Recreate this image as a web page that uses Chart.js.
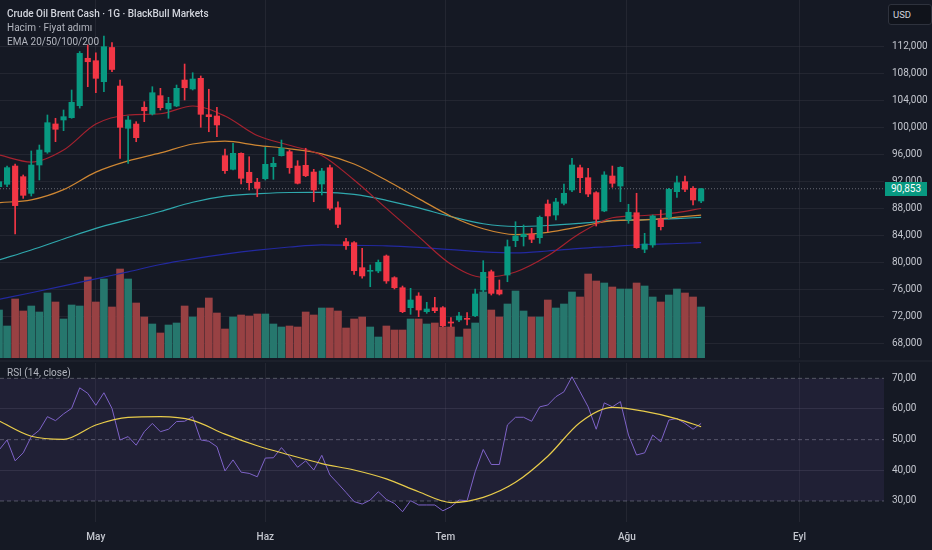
<!DOCTYPE html>
<html><head><meta charset="utf-8">
<script src="https://cdn.jsdelivr.net/npm/chart.js@4.4.1/dist/chart.umd.min.js"></script>
<style>
html,body{margin:0;padding:0;background:#151924;width:932px;height:550px;overflow:hidden;}
#wrap{position:relative;width:932px;height:550px;background:#151924;}
canvas{position:absolute;left:0;}
#main{top:0;}
#rsi{top:362px;}
.t{position:absolute;white-space:nowrap;font-family:Roboto,"Noto Sans",sans-serif;font-size:10px;line-height:14px;color:#b2b5be;}
#t1{left:7px;top:7px;color:#d1d4dc;font-weight:500;}
#t2{left:7px;top:21px;}
#t3{left:7px;top:35px;}
#t4{left:7px;top:366px;}
#usd{position:absolute;left:888px;top:4px;width:38px;height:19px;border:1px solid #2e323d;border-radius:3px;background:#10131b;color:#d1d4dc;font-family:Roboto,sans-serif;font-size:9.5px;line-height:19px;padding-left:4px;box-sizing:content-box;}
#plabel{position:absolute;left:885px;width:42px;height:14px;background:#089981;color:#fff;font-family:Roboto,sans-serif;font-size:10px;line-height:14px;text-align:center;}
#sep{position:absolute;left:0;top:360px;width:932px;height:2px;background:#1c202b;}
</style></head>
<body><div id="wrap">
<canvas id="main" width="932" height="360"></canvas>
<div id="sep"></div>
<canvas id="rsi" width="932" height="188"></canvas>
<div class="t" id="t1">Crude Oil Brent Cash · 1G · BlackBull Markets</div>
<div class="t" id="t2">Hacim · Fiyat adımı</div>
<div class="t" id="t3">EMA 20/50/100/200</div>
<div class="t" id="t4">RSI (14, close)</div>
<div id="usd">USD</div>
<div id="plabel">90,853</div>
</div>
<script>
// ---------- DATA ----------
const monthTicks  = [12.0, 33.0, 55.3, 77.8, 99.2];
const monthLabels = ['May', 'Haz', 'Tem', 'Ağu', 'Eyl'];
const priceTicks  = [68, 72, 76, 80, 84, 88, 92, 96, 100, 104, 108, 112];
const rsiTicks    = [30, 40, 50, 60, 70];
const rsiLevels   = [70, 50, 30];

const opens = [91.16,91.51,94.22,92.64,90.17,94.37,96.30,100.45,101.04,101.38,
103.16,110.18,109.82,106.71,111.78,106.07,99.81,100.44,102.92,101.93,
104.64,102.67,103.11,106.96,105.63,107.21,101.82,101.63,95.75,93.73,
96.10,93.29,91.81,92.34,94.12,95.75,96.34,94.22,94.32,93.33,
91.56,93.97,88.04,83.01,82.86,79.16,78.62,78.67,80.89,77.68,
76.19,73.23,74.96,72.64,73.23,73.23,71.11,71.41,71.60,72.04,
75.85,78.56,75.85,78.07,83.16,83.75,84.15,83.60,88.59,86.96,
88.70,90.67,93.97,92.49,90.27,87.56,92.74,91.26,86.22,87.30,
81.88,82.52,86.37,86.62,90.42,91.90,90.92,89.04];
const highs = [92.30,94.22,94.52,92.89,96.45,97.33,101.78,101.29,102.52,105.48,
111.18,112.15,111.00,113.48,112.49,106.96,101.63,100.79,103.75,105.97,
105.73,104.40,106.22,109.33,108.04,107.56,105.59,102.92,96.74,97.58,
96.19,95.60,92.40,96.99,95.51,98.07,96.59,95.01,96.85,93.73,
93.88,94.37,88.93,83.51,83.01,82.03,79.56,80.30,81.04,77.82,
76.44,76.10,75.45,74.03,74.77,73.38,71.75,72.55,72.49,76.00,
80.20,78.81,77.33,83.26,85.97,85.48,84.99,86.82,89.19,89.44,
91.56,95.36,94.37,93.88,90.42,93.38,94.22,94.12,88.55,90.18,
84.25,86.96,87.70,90.92,92.74,92.74,91.16,90.92];
const lows = [90.80,91.16,84.15,89.43,89.78,92.15,96.10,97.83,99.46,101.29,
102.80,105.97,105.08,105.23,108.19,95.36,94.62,97.82,100.79,101.78,
102.52,101.29,103.01,104.00,105.48,99.96,99.30,98.56,93.14,93.63,
91.56,90.67,89.67,92.15,92.25,95.70,93.14,91.56,92.64,88.93,
89.93,87.70,85.08,81.88,78.17,77.60,76.34,78.41,76.84,76.00,
72.49,72.25,71.90,72.40,72.49,70.41,70.41,71.16,70.67,71.90,
75.60,75.11,75.11,77.08,82.27,82.37,82.86,82.77,84.49,86.22,
88.44,90.42,90.27,89.67,85.33,87.45,91.07,88.93,85.73,82.03,
81.38,82.18,84.74,86.33,89.58,90.42,88.44,88.80];
const closes = [91.90,93.98,88.35,89.88,94.37,96.59,100.64,99.66,101.53,103.66,
110.91,109.67,107.21,111.90,108.52,99.95,101.04,98.42,102.41,105.08,
102.86,103.51,105.73,105.82,107.11,101.88,101.53,100.30,93.53,96.10,
92.40,91.75,90.92,94.47,94.62,96.85,93.97,91.66,92.78,90.67,
93.48,87.96,85.58,82.41,78.71,77.93,78.71,79.95,77.19,76.19,
72.64,74.37,72.89,73.04,72.79,70.56,70.96,72.00,71.51,75.26,
78.47,75.36,75.26,82.27,83.85,84.10,83.36,86.62,86.82,88.89,
90.18,94.37,92.49,90.07,86.33,92.89,91.66,94.03,87.37,82.12,
82.67,86.82,85.23,90.77,91.75,90.77,89.19,90.853];
const volumes = [48,32,59,47,52,46,65,56,39,53,
52,81,56,79,51,89,79,55,41,34,
25,33,35,52,41,50,60,45,29,41,
43,42,44,44,34,31,32,31,46,43,
50,50,47,30,39,41,31,21,32,28,
28,39,39,34,35,31,31,21,29,35,
66,48,41,54,67,47,41,41,58,50,
54,66,61,84,77,75,71,69,69,75,
72,61,56,63,69,65,61,51];
const rsi = [46.6,49.9,43.1,45.7,51.0,53.1,57.5,56.2,58.4,60.2,
66.9,65.1,61.2,65.3,60.2,49.9,51.0,48.2,52.6,55.3,
52.6,53.4,55.9,56.0,57.5,49.9,49.5,47.7,39.8,43.4,
39.4,39.0,37.9,44.0,44.1,47.4,44.4,41.0,43.1,40.1,
44.9,38.5,35.7,32.8,29.8,29.0,30.3,33.0,30.5,29.2,
26.5,30.1,28.7,28.7,28.7,26.8,28.1,30.3,30.1,39.5,
46.8,41.9,41.9,54.8,57.3,57.3,56.0,60.7,61.3,64.0,
65.6,70.5,65.6,60.7,53.4,62.0,60.7,62.4,51.5,45.0,
45.7,51.5,49.3,56.4,56.9,55.3,53.4,55.3];

// smooth lines sampled at these bar indices
const lineIdx = [0,4,8,12,16,20,24,28,32,36,40,44,48,52,56,60,64,68,72,76,80,84,87];
const ema20  = [95.85,94.81,96.59,100.44,101.78,101.96,103.11,101.63,98.73,97.29,95.78,92.15,87.94,83.76,79.67,77.73,78.52,80.92,84.25,86.56,86.89,87.32,87.93];
const ema50  = [88.79,89.21,90.73,93.32,94.98,96.16,97.48,97.90,97.29,96.77,96.03,94.52,92.10,89.39,86.79,84.93,84.07,84.40,85.23,86.13,86.25,86.65,86.95];
const ema100 = [80.30,81.78,83.41,84.98,86.24,87.48,88.85,89.75,90.10,90.30,90.31,90.01,89.14,88.01,86.73,85.67,85.26,85.41,85.73,86.13,86.28,86.44,86.62];
const ema200 = [74.47,75.45,76.47,77.51,78.55,79.63,80.46,81.16,81.75,82.22,82.55,82.46,82.40,82.17,81.84,81.51,81.35,81.63,82.03,82.30,82.59,82.74,82.86];
const rsiMa  = [56.1,51.1,50.1,54.8,57.3,57.5,56.3,51.8,48.0,45.0,42.2,40.1,37.2,33.0,29.5,31.2,36.1,44.6,55.6,60.5,59.2,56.8,54.2];

// ---------- STYLE ----------
const X_MIN = 0.124, X_MAX = 109.66;
const P_MIN = 65.778, P_MAX = 118.815;
const R_MIN = 23.15, R_MAX = 75.0;
const VOL_MAX = 358;
const FONT = 'Roboto, "Noto Sans", sans-serif';
const upCol = '#089981', dnCol = '#f23645';
const volUp = '#26776d', volDn = '#984143';
const gridCol = 'rgba(54,58,69,0.42)';
const tickCol = '#c3c6ce';
const lastPrice = closes[closes.length - 1];

const isUp = closes.map((c, i) => c >= opens[i]);
const candleColors = isUp.map(u => u ? upCol : dnCol);
const volColors = isUp.map(u => u ? volUp : volDn);
const toPts = (idx, vals) => vals.map((v, k) => ({x: idx[k], y: v}));

function emaLine(vals, color, order) {
  return {type:'line', data: toPts(lineIdx, vals), borderColor: color, borderWidth: 1.2,
          pointRadius: 0, cubicInterpolationMode: 'monotone', order, yAxisID: 'y'};
}

Chart.defaults.font.family = FONT;

const setTicks = arr => (s) => { s.ticks = arr.map(v => ({value: v})); };
const noPad = s => { s.paddingTop = 0; s.paddingBottom = 0; s.paddingLeft = 0; s.paddingRight = 0; };
const fitY = s => { s.width = 48; noPad(s); };

const mainChart = new Chart(document.getElementById('main'), {
  type: 'bar',
  data: { datasets: [
    {type:'bar', data: closes.map((c, i) => ({x: i, y: [opens[i], c]})), backgroundColor: candleColors,
     borderWidth: 0, barThickness: 5.5, minBarLength: 1, grouped: false, order: 0, yAxisID: 'y'},
    {type:'bar', data: highs.map((h, i) => ({x: i, y: [lows[i], h]})), backgroundColor: candleColors,
     borderWidth: 0, barThickness: 1, grouped: false, order: 1, yAxisID: 'y'},
    emaLine(ema20, '#a5222f', 2),
    emaLine(ema50, '#cf8733', 3),
    emaLine(ema100, '#2fa8ad', 4),
    emaLine(ema200, '#2329a0', 5),
    {type:'line', data: [{x: X_MIN, y: lastPrice}, {x: X_MAX, y: lastPrice}], borderColor: 'rgba(130,133,144,0.75)',
     borderWidth: 1, borderDash: [1, 2], pointRadius: 0, order: 6, yAxisID: 'y'},
    {type:'bar', data: volumes.map((v, i) => ({x: i, y: v})), backgroundColor: volColors,
     borderWidth: 0, barThickness: 7, grouped: false, order: 10, yAxisID: 'yVol'}
  ]},
  options: {
    responsive: false, animation: false, devicePixelRatio: 1,
    layout: {autoPadding: false, padding: {left: 0, right: 0, top: 0, bottom: 2}},
    plugins: {legend: {display: false}, tooltip: {enabled: false}},
    scales: {
      x: {type: 'linear', min: X_MIN, max: X_MAX, offset: false,
          grid: {color: gridCol, drawTicks: false, offset: false}, border: {display: false},
          ticks: {display: false}, afterBuildTicks: setTicks(monthTicks), afterFit: s => { s.height = 0; noPad(s); }},
      y: {position: 'right', min: P_MIN, max: P_MAX,
          grid: {color: gridCol, drawTicks: false}, border: {display: false},
          ticks: {color: tickCol, font: {size: 10}, padding: 8, callback: v => v.toFixed(3).replace('.', ',')},
          afterBuildTicks: setTicks(priceTicks), afterFit: fitY},
      yVol: {display: false, min: 0, max: VOL_MAX}
    }
  }
});

const pl = document.getElementById('plabel');
pl.style.top = (mainChart.scales.y.getPixelForValue(lastPrice) - 7) + 'px';

new Chart(document.getElementById('rsi'), {
  type: 'line',
  data: { datasets: [
    {data: toPts(lineIdx, rsiMa), borderColor: '#e8cc4b', borderWidth: 1.2, pointRadius: 0,
     cubicInterpolationMode: 'monotone', order: 0},
    {data: rsi.map((v, i) => ({x: i, y: v})), borderColor: '#7e63c8', borderWidth: 1, pointRadius: 0,
     tension: 0, order: 1},
    ...rsiLevels.map((l, k) => ({
      data: [{x: X_MIN, y: l}, {x: X_MAX, y: l}], borderColor: 'rgba(125,128,140,0.6)', borderWidth: 1,
      borderDash: [4, 3], pointRadius: 0, order: 5 + k,
      fill: k === 0 ? '+2' : false, backgroundColor: 'rgba(126,87,194,0.11)'
    }))
  ]},
  options: {
    responsive: false, animation: false, devicePixelRatio: 1,
    layout: {autoPadding: false, padding: {left: 0, right: 0, top: 1, bottom: 0}},
    plugins: {legend: {display: false}, tooltip: {enabled: false}},
    scales: {
      x: {type: 'linear', min: X_MIN, max: X_MAX, offset: false,
          grid: {color: gridCol, drawTicks: false}, border: {display: false},
          ticks: {color: tickCol, font: {size: 10, weight: '500'}, padding: 9, autoSkip: false, maxRotation: 0,
                  callback: v => { const k = monthTicks.indexOf(v); return k >= 0 ? monthLabels[k] : ''; }},
          afterBuildTicks: setTicks(monthTicks), afterFit: s => { s.height = 28; noPad(s); }},
      y: {position: 'right', min: R_MIN, max: R_MAX,
          grid: {drawTicks: false, color: c => (c.tick && (c.tick.value === 60 || c.tick.value === 40)) ? 'rgba(80,84,96,0.35)' : 'rgba(0,0,0,0)'},
          border: {display: false},
          ticks: {color: tickCol, font: {size: 10}, padding: 8, callback: v => v.toFixed(2).replace('.', ',')},
          afterBuildTicks: setTicks(rsiTicks), afterFit: fitY}
    }
  }
});
</script>
</body></html>
